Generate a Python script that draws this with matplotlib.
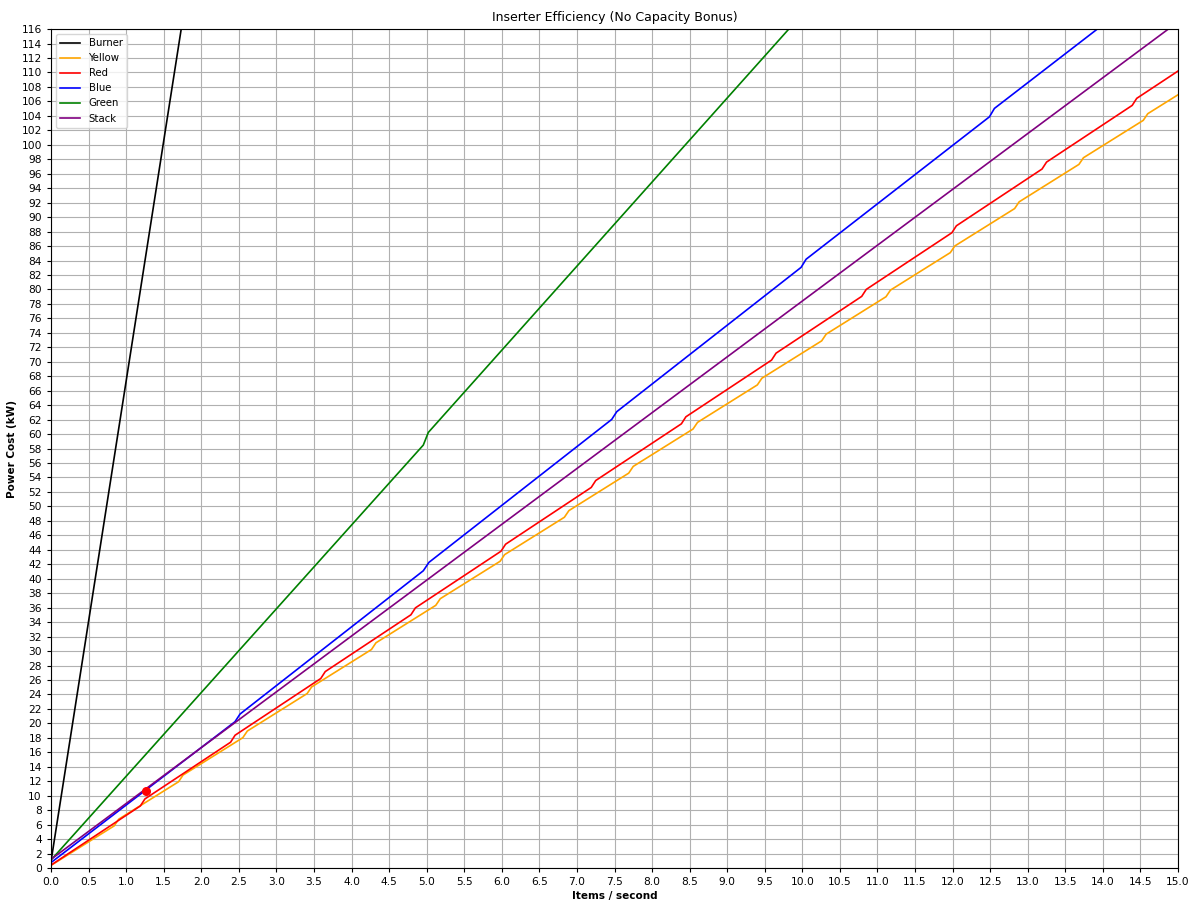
import numpy as np
import matplotlib
matplotlib.use("Agg")
import matplotlib.pyplot as plt

# values (items/s -> kW)
burner_x = [0.0, 1.76]
burner_y = [0.9, 117.8]

yellow_x = [0.0, 0.841, 0.901, 1.697, 1.757, 2.553, 2.613, 3.409, 3.469,
            4.265, 4.325, 5.121, 5.181, 5.977, 6.037, 6.833, 6.893, 7.689, 7.749,
            8.545, 8.605, 9.401, 9.461, 10.257, 10.317, 11.113, 11.173,
            11.969, 12.029, 12.825, 12.885, 13.681, 13.741, 14.537, 14.597, 15.0]
yellow_y = [0.36, 5.83, 6.75, 11.92, 12.85, 18.02, 18.94, 24.12, 25.04,
            30.21, 31.14, 36.32, 37.24, 42.41, 43.33, 48.50, 49.42, 54.60, 55.53,
            60.70, 61.62, 66.80, 67.72, 72.89, 73.82, 78.99, 79.91,
            85.09, 86.01, 91.18, 92.11, 97.29, 98.21, 103.38, 104.30, 106.92]

red_x = [0.0, 1.19, 1.25, 2.39, 2.45, 3.59, 3.65, 4.79, 4.85, 5.99, 6.05,
         7.19, 7.25, 8.39, 8.45, 9.59, 9.65, 10.79, 10.85, 11.99, 12.05,
         13.19, 13.25, 14.39, 14.45, 15.0]
red_y = [0.4, 8.59, 9.55, 17.39, 18.36, 26.20, 27.16, 35.01, 35.97, 43.81, 44.77,
         52.62, 53.58, 61.42, 62.39, 70.23, 71.19, 79.04, 80.00, 87.84, 88.80,
         96.65, 97.61, 105.45, 106.42, 110.2]

blue_x = [0.0, 2.449, 2.516, 4.955, 5.03, 7.463, 7.53, 9.983, 10.05,
          12.49, 12.556, 14.0]
blue_y = [0.75, 20.23, 21.29, 41.1, 42.26, 62.03, 63.1, 83.05, 84.18,
          103.87, 105.03, 116.6]

green_x = [0.0, 4.955, 5.022, 10.0]
green_y = [1.1, 58.48, 60.23, 118.1]

stack_x = [0.0, 15.0]
stack_y = [1.2, 117.0]

marker_x = [1.26]
marker_y = [10.65]

series = [
    ("Burner", burner_x, burner_y, "black"),
    ("Yellow", yellow_x, yellow_y, "orange"),
    ("Red", red_x, red_y, "red"),
    ("Blue", blue_x, blue_y, "blue"),
    ("Green", green_x, green_y, "green"),
    ("Stack", stack_x, stack_y, "purple"),
]

fig = plt.figure(figsize=(12, 9.09), dpi=100)
ax = fig.add_axes([0.0425, 0.0451, 0.9392, 0.9229])

for name, xs, ys, col in series:
    ax.plot(xs, ys, color=col, lw=1.2, label=name)
ax.plot(marker_x, marker_y, "o", color="red", ms=5.5)

ax.set_xlim(0, 15)
ax.set_ylim(0, 116)
ax.set_xticks(np.arange(0, 15.01, 0.5))
ax.set_yticks(np.arange(0, 117, 2))
ax.tick_params(labelsize=7.7, length=3)
ax.grid(True, color="#b0b0b0", lw=0.8)
ax.set_axisbelow(True)

ax.set_title("Inserter Efficiency (No Capacity Bonus)", fontsize=9)
ax.set_xlabel("Items / second", fontsize=7.5, fontweight="bold", labelpad=3)
ax.set_ylabel("Power Cost (kW)", fontsize=7.5, fontweight="bold", labelpad=3)
ax.legend(loc="upper left", fontsize=7.3)

fig.savefig("out.png", dpi=100)
